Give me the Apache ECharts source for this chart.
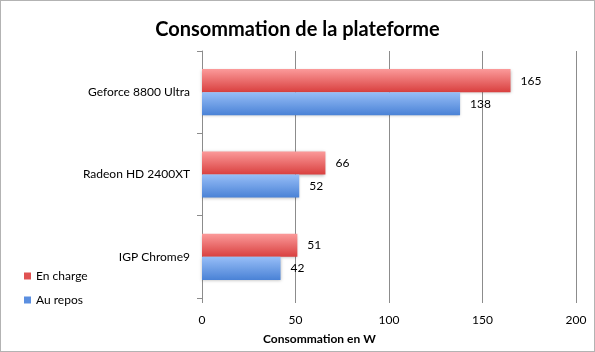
<!DOCTYPE html>
<html>
<head>
<meta charset="utf-8">
<script src="https://cdn.jsdelivr.net/npm/echarts@6/dist/echarts.min.js"></script>
<style>
    html, body { margin: 0; padding: 0; background: #fff; }
    #chart { width: 593px; height: 350px; border: 1px solid #b3b3b3; }
</style>
</head>
<body>
<div id="chart"></div>
<script>
    // valeurs
    var categories = ['IGP Chrome9', 'Radeon HD 2400XT', 'Geforce 8800 Ultra'];
    var enCharge = [51, 66, 165];
    var auRepos = [42, 52, 138];
    var xTicks = [0, 50, 100, 150, 200];

    var font = 'Lato, "Open Sans", sans-serif';
    var chart = echarts.init(document.getElementById('chart'));

    function grad(top, bottom) {
        return new echarts.graphic.LinearGradient(0, 0, 0, 1, [
            { offset: 0, color: top },
            { offset: 1, color: bottom }
        ]);
    }

    var option = {
        animation: false,
        title: {
            text: 'Consommation de la plateforme',
            left: 'center',
            top: 14,
            textStyle: { fontFamily: font, fontSize: 20, fontWeight: 'bold', color: '#000' }
        },
        legend: {
            orient: 'vertical',
            left: 18,
            top: 264,
            itemWidth: 7,
            itemHeight: 7,
            itemGap: 12,
            icon: 'rect',
            textStyle: { fontFamily: font, fontSize: 12, color: '#000' },
            data: [
                { name: 'En charge', itemStyle: { color: '#e05252' } },
                { name: 'Au repos', itemStyle: { color: '#5b8fe0' } }
            ]
        },
        grid: { left: 201, right: 18, top: 50, bottom: 53, containLabel: false },
        xAxis: {
            type: 'value',
            min: xTicks[0],
            max: xTicks[xTicks.length - 1],
            interval: 50,
            axisLine: { show: false },
            axisTick: { show: true, length: 5, lineStyle: { color: '#8c8c8c' } },
            axisLabel: { fontFamily: font, fontSize: 12, color: '#000', margin: 16 },
            splitLine: { show: true, lineStyle: { color: '#8c8c8c', width: 1 } }
        },
        yAxis: {
            type: 'category',
            data: categories,
            axisLine: { show: true, lineStyle: { color: '#8c8c8c' } },
            axisTick: { show: true, length: 5, lineStyle: { color: '#8c8c8c' } },
            axisLabel: { fontFamily: font, fontSize: 12, color: '#000', margin: 12 }
        },
        graphic: [{
            type: 'text',
            left: 262,
            top: 332,
            style: { text: 'Consommation en W', font: 'bold 12px ' + font, fill: '#000' }
        }],
        series: [{
            name: 'En charge',
            type: 'bar',
            data: enCharge,
            barGap: '0%',
            barCategoryGap: '44%',
            itemStyle: {
                color: grad('#fb9a9a', '#d9403f'),
                shadowColor: 'rgba(0,0,0,0.25)',
                shadowBlur: 3,
                shadowOffsetY: 1
            },
            label: { show: true, position: 'right', distance: 10, fontFamily: font, fontSize: 12, color: '#000' }
        }, {
            name: 'Au repos',
            type: 'bar',
            data: auRepos,
            itemStyle: {
                color: grad('#97bef7', '#4a82d6'),
                shadowColor: 'rgba(0,0,0,0.25)',
                shadowBlur: 3,
                shadowOffsetY: 1
            },
            label: { show: true, position: 'right', distance: 10, fontFamily: font, fontSize: 12, color: '#000' }
        }]
    };
    chart.setOption(option);
</script>
</body>
</html>
